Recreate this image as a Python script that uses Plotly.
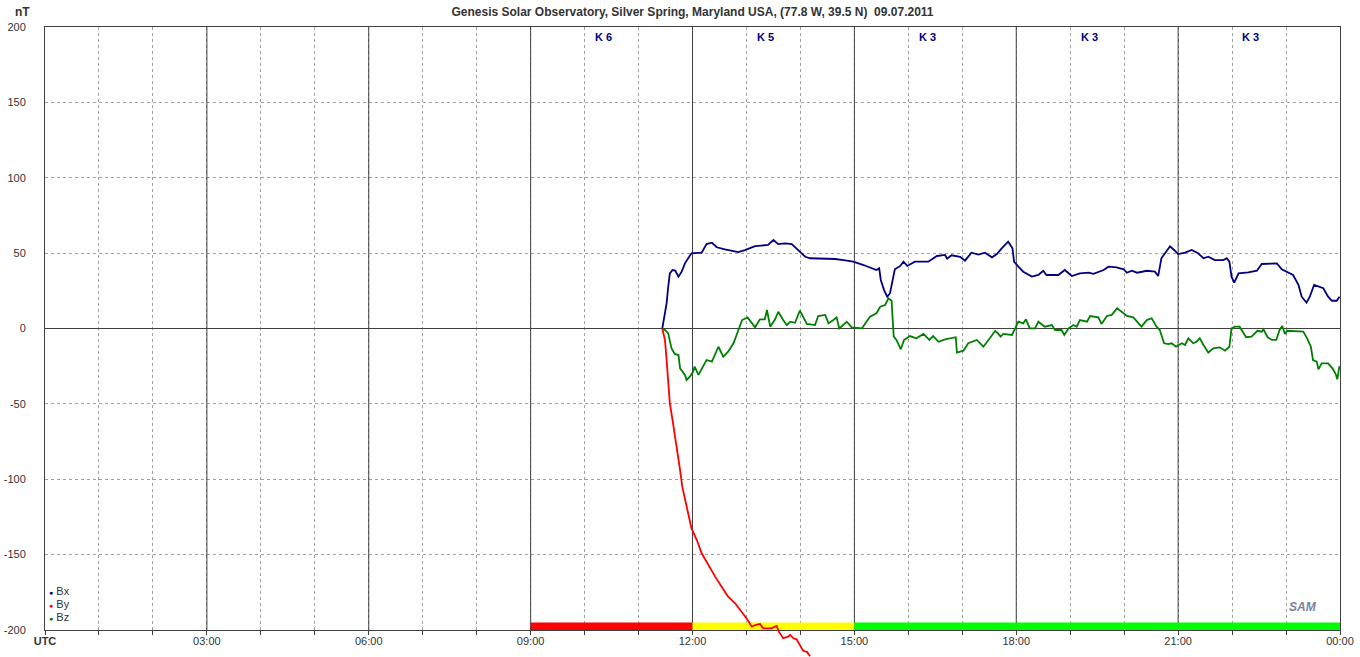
import plotly.graph_objects as go

# ---------------- data (hours UTC, nT) ----------------
bx_t = [11.44, 11.48, 11.52, 11.55, 11.58, 11.63, 11.68, 11.74, 11.80, 11.86, 11.92, 11.98, 12.17, 12.26, 12.36, 12.45,
        12.60, 12.73, 12.85, 12.97, 13.16, 13.40, 13.50, 13.59, 13.72, 13.84, 13.90, 13.99, 14.09, 14.18, 14.30, 14.46,
        14.64, 14.80, 14.98, 15.17, 15.32, 15.41, 15.46, 15.49, 15.55, 15.61, 15.66, 15.71, 15.75, 15.85, 15.91, 15.98,
        16.12, 16.37, 16.53, 16.68, 16.72, 16.80, 16.96, 17.05, 17.17, 17.30, 17.42, 17.55, 17.64, 17.73, 17.85, 17.93,
        17.96, 18.04, 18.13, 18.29, 18.41, 18.50, 18.56, 18.78, 18.90, 19.03, 19.18, 19.34, 19.43, 19.62, 19.71, 19.86,
        19.99, 20.05, 20.14, 20.24, 20.42, 20.57, 20.63, 20.69, 20.79, 20.85, 20.94, 21.00, 21.13, 21.25, 21.37, 21.47,
        21.56, 21.68, 21.84, 21.90, 21.95, 21.99, 22.04, 22.12, 22.30, 22.46, 22.55, 22.70, 22.83, 22.92, 23.04, 23.13,
        23.23, 23.29, 23.38, 23.44, 23.52, 23.60, 23.69, 23.78, 23.85, 23.94, 23.99]
bx_v = [0, 7.8, 16.7, 27.7, 36.6, 38.8, 38.4, 34.4, 37.7, 43.2, 46.6, 49.9, 50.3, 56.0, 56.9, 53.9,
        52.5, 51.6, 50.7, 52.0, 54.7, 55.4, 58.7, 56.0, 56.5, 56.0, 53.9, 50.9, 47.6, 46.6, 46.6, 46.6,
        46.1, 45.4, 44.3, 42.1, 39.9, 38.8, 39.9, 32.2, 25.5, 21.1, 23.4, 32.2, 39.3, 41.5, 44.3, 41.5,
        44.3, 44.3, 48.1, 48.8, 46.3, 48.6, 47.6, 45.0, 50.3, 49.0, 50.3, 47.2, 49.4, 53.2, 57.6, 53.2,
        44.3, 41.0, 37.7, 34.4, 35.5, 38.3, 35.5, 35.5, 38.8, 34.8, 36.6, 37.0, 36.2, 38.8, 41.0, 40.6,
        39.3, 37.0, 38.3, 37.0, 38.3, 37.7, 34.8, 46.6, 52.1, 54.5, 51.6, 49.4, 50.3, 52.1, 49.9, 46.6,
        47.6, 45.4, 45.4, 46.6, 44.3, 34.4, 30.4, 36.6, 37.3, 38.3, 42.8, 42.8, 43.2, 39.3, 37.0, 35.5,
        28.9, 21.1, 17.1, 21.1, 28.9, 27.7, 26.7, 21.1, 18.4, 18.4, 21.1]

by_t = [11.44, 11.49, 11.52, 11.55, 11.58, 11.63, 11.68, 11.73, 11.77, 11.81, 11.87, 11.92, 11.98, 12.08, 12.17, 12.29,
        12.42, 12.54, 12.66, 12.79, 12.91, 13.00, 13.10, 13.16, 13.25, 13.31, 13.46, 13.56, 13.60, 13.68, 13.77, 13.81,
        13.87, 13.93, 13.99, 14.05, 14.12, 14.18]
by_v = [0, -7.6, -20.9, -34.2, -49.6, -60.7, -71.8, -82.8, -93.9, -104.9, -113.8, -122.6, -132.5, -140.3, -149.1, -156.9,
        -164.6, -171.3, -177.9, -182.3, -187.9, -192.2, -197.8, -196.7, -196.0, -198.9, -198.9, -197.3, -201.1, -205.5, -204.4, -203.3,
        -205.5, -206.2, -210.0, -213.8, -214.5, -217.4]

bz_t = [11.44, 11.49, 11.55, 11.61, 11.67, 11.74, 11.77, 11.86, 11.89, 11.95, 12.01, 12.04, 12.11, 12.20, 12.26, 12.36,
        12.42, 12.48, 12.57, 12.66, 12.76, 12.85, 12.92, 13.02, 13.10, 13.16, 13.25, 13.34, 13.38, 13.44, 13.53, 13.59,
        13.68, 13.75, 13.81, 13.90, 13.99, 14.12, 14.27, 14.33, 14.46, 14.52, 14.61, 14.67, 14.72, 14.86, 14.95, 15.14,
        15.29, 15.41, 15.48, 15.57, 15.63, 15.69, 15.71, 15.73, 15.78, 15.86, 15.92, 16.03, 16.15, 16.28, 16.39, 16.46,
        16.56, 16.68, 16.88, 16.90, 17.02, 17.11, 17.27, 17.39, 17.51, 17.61, 17.67, 17.71, 17.76, 17.92, 17.98, 18.04,
        18.13, 18.18, 18.25, 18.35, 18.41, 18.53, 18.66, 18.72, 18.84, 18.89, 18.97, 19.06, 19.12, 19.18, 19.31, 19.37,
        19.52, 19.58, 19.68, 19.77, 19.87, 19.95, 20.05, 20.17, 20.32, 20.42, 20.51, 20.60, 20.66, 20.74, 20.82, 20.88,
        20.96, 21.07, 21.13, 21.19, 21.28, 21.34, 21.40, 21.47, 21.56, 21.65, 21.77, 21.87, 21.95, 21.99, 22.05, 22.14,
        22.26, 22.36, 22.47, 22.55, 22.58, 22.66, 22.74, 22.82, 22.88, 22.93, 22.98, 23.02, 23.32, 23.39, 23.46, 23.50,
        23.57, 23.60, 23.66, 23.78, 23.86, 23.92, 23.95, 23.99]
bz_v = [0, -1.0, -3.2, -13.1, -16.9, -17.6, -26.4, -30.8, -34.2, -32.0, -28.7, -25.3, -30.8, -25.3, -20.9, -22.0,
        -16.5, -12.1, -18.7, -15.4, -9.8, -1.0, 5.6, 7.4, 3.4, 0.8, 6.1, 6.1, 12.3, 1.2, 6.1, 11.1,
        5.6, 2.3, 4.5, 3.8, 11.8, 3.0, 2.3, 8.3, 9.0, 3.4, 5.6, 7.4, 0.1, 4.5, 0.8, 0.1,
        7.8, 10.1, 14.5, 15.6, 20.0, 18.4, 5.6, -5.4, -7.6, -13.8, -7.6, -5.0, -6.5, -3.6, -7.6, -5.0,
        -8.8, -7.2, -5.8, -16.0, -14.7, -9.8, -7.6, -12.1, -6.5, -1.5, -3.6, -5.4, -3.6, -4.3, 0.1, 4.5,
        3.4, 6.1, 0.1, 0.1, 4.5, 1.2, 2.3, -1.0, -1.0, -4.3, 0.1, 2.3, 1.2, 5.6, 4.5, 8.3,
        7.4, 3.0, 8.3, 9.0, 13.4, 11.1, 8.3, 7.4, 1.2, 5.6, 6.8, 1.2, -1.0, -9.8, -10.3, -9.8,
        -12.1, -9.8, -10.9, -6.5, -9.8, -8.8, -6.5, -10.9, -16.0, -13.1, -12.5, -14.7, -12.1, 0.1, 1.2, 1.2,
        -5.8, -5.4, -1.5, -2.1, -0.5, -5.8, -7.6, -7.6, -1.0, 1.7, -3.6, -1.5, -2.1, -6.5, -12.1, -20.9,
        -22.0, -27.1, -23.1, -23.1, -26.4, -30.2, -33.7, -24.9]

# K indices per 3-hour interval
k_start = [9, 12, 15, 18, 21]
k_value = [6, 5, 3, 3, 3]
k_color = ["#ff0000", "#ffff00", "#00ff00", "#00ff00", "#00ff00"]

hour_ticks = list(range(0, 25))
hour_text = ["<b>UTC</b>" if h == 0 else (f"{h % 24:02d}:00" if h % 3 == 0 else "") for h in hour_ticks]
y_ticks = list(range(-200, 201, 50))
y_text = [str(v) for v in y_ticks]

TITLE = "Genesis Solar Observatory, Silver Spring, Maryland USA, (77.8 W, 39.5 N)  09.07.2011"

# ---------------- figure ----------------
W, H = 1360, 657
ML, MR, MT, MB = 45, 20, 27, 0
plot_w = W - ML - MR
plot_h = H - MT - MB
main_bottom_px = 630
y_dom0 = (H - main_bottom_px) / plot_h
px_per_nt = (main_bottom_px - MT) / 400.0
y2_low = -200 - (H - main_bottom_px) / px_per_nt

FONT = "Liberation Sans, Arial, sans-serif"
GRID = "#a0a0a0"
DARK = "#404040"
TXT = "#333333"

fig = go.Figure()
fig.add_trace(go.Scatter(x=bx_t, y=bx_v, mode="lines", line=dict(color="#000080", width=1.8),
                         name="Bx", xaxis="x", yaxis="y", hoverinfo="skip"))
fig.add_trace(go.Scatter(x=bz_t, y=bz_v, mode="lines", line=dict(color="#008000", width=1.8),
                         name="Bz", xaxis="x", yaxis="y", hoverinfo="skip"))
fig.add_trace(go.Scatter(x=by_t, y=by_v, mode="lines", line=dict(color="#ff0000", width=1.8),
                         name="By", xaxis="x2", yaxis="y2", hoverinfo="skip"))

shapes = []
# solid 3-hour verticals
for h in range(3, 24, 3):
    shapes.append(dict(type="line", xref="x", yref="y", x0=h, x1=h, y0=-200, y1=200,
                       line=dict(color=DARK, width=1), layer="between"))
# K colour bar
for s, c in zip(k_start, k_color):
    shapes.append(dict(type="rect", xref="x", yref="y", x0=s, x1=s + 3, y0=-200, y1=-195,
                       fillcolor=c, line=dict(width=0), layer="between"))

annotations = []
for s, k in zip(k_start, k_value):
    annotations.append(dict(x=s + 1.35, y=193.5, xref="x", yref="y", text=f"<b>K {k}</b>",
                            xanchor="center", yanchor="middle",
                            showarrow=False, font=dict(family=FONT, size=11, color="#000080")))
annotations.append(dict(x=(22 - ML) / plot_w, y=(H - 12) / plot_h, xref="paper", yref="paper",
                        xanchor="center", yanchor="middle",
                        text="<b>nT</b>", showarrow=False, font=dict(family=FONT, size=12, color=TXT)))
for i, (nm, col) in enumerate([("Bx", "#000080"), ("By", "#ff0000"), ("Bz", "#008000")]):
    annotations.append(dict(x=(47 - ML) / plot_w, y=(H - (591 + 13 * i)) / plot_h,
                            xref="paper", yref="paper", xanchor="left", yanchor="middle",
                            text=f"<span style='color:{col};font-size:7px'>●</span> {nm}", showarrow=False,
                            font=dict(family=FONT, size=11, color=TXT)))
annotations.append(dict(x=(1303 - ML) / plot_w, y=(H - 607) / plot_h, xref="paper", yref="paper",
                        xanchor="center", yanchor="middle",
                        text="<i><b>SAM</b></i>", showarrow=False,
                        font=dict(family=FONT, size=12, color="#7a7f9a")))

fig.update_layout(
    width=W, height=H,
    margin=dict(l=ML, r=MR, t=MT, b=MB, pad=0, autoexpand=False),
    paper_bgcolor="white", plot_bgcolor="rgba(0,0,0,0)",
    showlegend=False,
    title=dict(text=f"<b>{TITLE}</b>", x=(692.5) / W, xanchor="center", y=1 - 12 / H, yanchor="middle",
               font=dict(family=FONT, size=12, color=TXT)),
    xaxis=dict(domain=[0, 1], range=[0, 24], anchor="y", tickmode="array", tickvals=hour_ticks,
               ticktext=hour_text, ticks="outside", ticklen=4, tickcolor=DARK, tickwidth=1,
               showgrid=True, gridcolor=GRID, griddash="3px,3px", gridwidth=1, automargin=False,
               showline=True, linecolor=DARK, linewidth=1, mirror=True, zeroline=False,
               ticklabelstandoff=-3,
               tickfont=dict(family=FONT, size=11, color=TXT)),
    yaxis=dict(domain=[y_dom0, 1], range=[-200, 200], anchor="x", tickmode="array", tickvals=y_ticks,
               ticktext=y_text, automargin=False,
               ticks="", showgrid=True, gridcolor=GRID, griddash="3px,3px", gridwidth=1,
               zeroline=True, zerolinecolor=DARK, zerolinewidth=1,
               showline=True, linecolor=DARK, linewidth=1, mirror=True,
               ticklabelstandoff=16, tickfont=dict(family=FONT, size=11, color=TXT)),
    xaxis2=dict(domain=[0, 1], range=[0, 24], anchor="y2", visible=False, showgrid=False, automargin=False),
    yaxis2=dict(domain=[0, 1], range=[y2_low, 200], anchor="x2", visible=False, showgrid=False, automargin=False),
    shapes=shapes,
    annotations=annotations,
)

fig.write_html("out.html", config={"displayModeBar": False},
               post_script="document.body.style.margin='0';document.body.style.overflow='hidden';")
